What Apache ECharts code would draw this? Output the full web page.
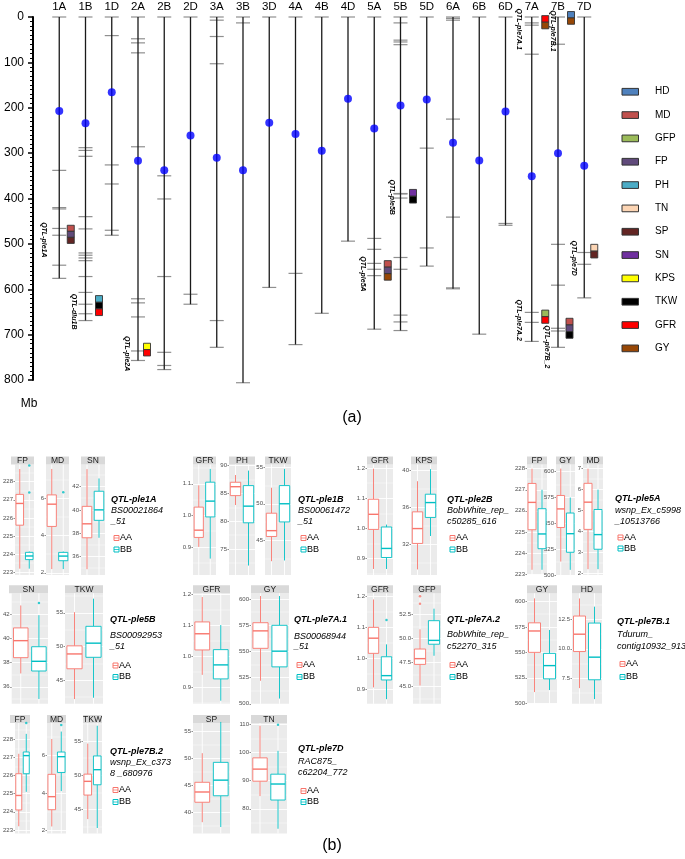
<!DOCTYPE html>
<html>
<head>
<meta charset="utf-8">
<script src="https://cdn.jsdelivr.net/npm/echarts@6/dist/echarts.min.js"></script>
<style>
  html, body { margin: 0; padding: 0; background: #fff; }
  #main { width: 685px; height: 859px; }
</style>
</head>
<body>
<div id="main"></div>
<script>
const FONT = '"Liberation Sans", Arial, Helvetica, sans-serif';

// ---------- (a) physical map ----------
const chromosomes = ['1A','1B','1D','2A','2B','2D','3A','3B','3D','4A','4B','4D','5A','5B','5D','6A','6B','6D','7A','7B','7D'];
const chromLength = [576, 669, 481, 757, 777, 633, 728, 806, 596, 722, 653, 494, 688, 691, 549, 599, 699, 459, 715, 728, 619];
const centromere  = [207, 234, 166, 317, 338, 261, 310, 338, 233, 258, 295, 180, 246, 195, 182, 277, 316, 208, 351, 300, 328];
const markerPos = [
  [338, 420, 423, 466, 481, 547],
  [288, 294, 307, 440, 467, 520, 525, 531, 537, 572, 607, 633, 654],
  [41, 326, 368, 470],
  [48, 57, 79, 286, 621, 630, 661, 736],
  [350, 401, 572, 739, 768],
  [611],
  [7, 43, 103, 669],
  [13],
  [],
  [565],
  [],
  [],
  [488, 512, 543, 556, 570],
  [13, 51, 55, 61, 389, 390, 399, 530, 556, 657, 672],
  [289, 509],
  [3, 7, 225, 441, 597],
  [],
  [455],
  [13, 18, 82, 651, 673],
  [60, 501, 591, 686, 692],
  [519, 545]
];
const traitNames  = ['HD','MD','GFP','FP','PH','TN','SP','SN','KPS','TKW','GFR','GY'];
const traitColors = ['#4f81bd','#c0504d','#9bbb59','#604a7b','#4bacc6','#fcd5b4','#632523','#7030a0','#ffff00','#000000','#ff0000','#974706'];

const qtlNames  = ['QTL-ple1A','QTL-dlu1B','QTL-ple2A','QTL-ple5A','QTL-ple5B','QTL-ple7A.1','QTL-ple7B.1','QTL-ple7D','QTL-ple7A.2','QTL-ple7B_2'];
const qtlChrom  = ['1A','1B','2A','5A','5B','7A','7B','7D','7A','7B'];
const qtlStart  = [459, 614, 719, 537, 380, -3, -12, 501, 646, 664];
const qtlEnd    = [499, 658, 747, 580, 410, 26, 16, 531, 675, 708];
const qtlTraits = [['MD','FP','SP'], ['PH','TKW','GFR'], ['KPS','GFR'], ['MD','FP','GY'], ['SN','TKW'],
                   ['GFR','GY'], ['HD','GY'], ['TN','SP'], ['GFP','GFR'], ['MD','FP','TKW']];

// layout of the QTL boxes / labels (pixels relative to the chromosome)
const qtlBoxDx   = [8, 10, 5.5, 10, 9, 10, 9.5, 6.5, 10, 8];
const qtlLabelDx = [-15, -11.5, -11, -11, -9, -12.5, -5, -10, -13, -11];
const qtlLabelDy = [5.5, 6, 4, 3.5, 1, 7, 13, 7, 3.5, 18.5];

// ---------- (b) box plots: [min, Q1, median, Q3, max] for AA and BB ----------
const genotypes = ['AA', 'BB'];
const genoColors = ['#f8766d', '#00bfc4'];

const ple1A_FP = [[223.2, 225.6, 226.8, 227.3, 228.7], [223.2, 223.7, 223.9, 224.1, 224.15]];
const ple1A_FP_out = [[], [228.9, 227.4]];
const ple1A_MD = [[2.2, 4.5, 5.7, 6.2, 7.6], [2.2, 2.65, 2.9, 3.1, 3.15]];
const ple1A_MD_out = [[], [6.35]];
const ple1A_SN = [[34.9, 37.6, 38.8, 40.3, 43.5], [37.6, 39.1, 40.0, 41.6, 42.7]];

const ple1B_GFR = [[0.90, 0.93, 0.953, 1.026, 1.095], [0.863, 0.995, 1.045, 1.105, 1.147]];
const ple1B_PH  = [[82.9, 84.6, 86.2, 87.0, 88.3], [72.0, 79.7, 82.7, 86.4, 89.1]];
const ple1B_TKW = [[42.1, 45.5, 46.3, 48.7, 52.2], [42.2, 47.5, 50.0, 52.5, 54.8]];

const ple2B_GFR = [[0.866, 0.997, 1.047, 1.097, 1.198], [0.866, 0.904, 0.934, 1.005, 1.013]];
const ple2B_KPS = [[29.3, 32.1, 33.7, 35.5, 38.8], [32.9, 34.9, 36.5, 37.4, 40.1]];

const ple5A_FP = [[223.2, 225.1, 226.4, 227.3, 228.0], [223.2, 224.2, 224.9, 226.1, 227.0]];
const ple5A_GY = [[513, 546, 564, 577, 603], [505, 522, 540, 560, 575]];
const ple5A_MD = [[2.2, 4.1, 5.4, 6.3, 7.0], [2.2, 3.15, 3.85, 5.05, 6.0]];

const ple5B_SN  = [[37.1, 38.4, 39.8, 40.85, 42.7], [35.0, 37.3, 38.1, 39.3, 41.9]];
const ple5B_SN_out = [[], [42.9]];
const ple5B_TKW = [[42.2, 46.7, 48.9, 50.1, 55.1], [42.4, 48.4, 50.5, 53.0, 57.1]];

const ple7A1_GFR = [[0.94, 1.02, 1.072, 1.11, 1.19], [0.857, 0.927, 0.972, 1.021, 1.10]];
const ple7A1_GY  = [[522, 553, 569.7, 577.5, 603], [505, 535.3, 550.3, 575, 603]];

const ple7A2_GFR = [[0.906, 1.016, 1.065, 1.10, 1.19], [0.868, 0.93, 0.944, 1.005, 1.045]];
const ple7A2_GFR_out = [[], [1.124]];
const ple7A2_GFP = [[45.1, 47.3, 47.9, 48.9, 50.95], [48.2, 49.4, 49.8, 51.85, 53.1]];
const ple7A2_GFP_out = [[54.4, 53.6], []];

const ple7B1_GY = [[511, 550, 571, 579, 603], [513, 524, 537, 549, 572]];
const ple7B1_HD = [[6.65, 9.77, 11.25, 12.8, 14.3], [5.71, 7.36, 9.29, 12.2, 13.6]];

const ple7B2_FP  = [[223.2, 224.1, 224.9, 226.1, 227.2], [225.1, 226.1, 227.1, 227.3, 228.3]];
const ple7B2_FP_out = [[], [228.9]];
const ple7B2_MD  = [[2.2, 3.1, 3.8, 5.0, 6.9], [4.1, 5.1, 5.95, 6.2, 7.3]];
const ple7B2_MD_out = [[], [7.65]];
const ple7B2_TKW = [[43.6, 47.1, 49.1, 50.15, 54.6], [42.3, 48.6, 50.8, 52.8, 57.2]];

const ple7D_SP = [[38.1, 41.8, 43.7, 45.5, 50.9], [37.2, 43.0, 45.9, 49.2, 56.7]];
const ple7D_TN = [[84.5, 89.8, 94.1, 98.1, 109.5], [72.9, 83.1, 88.8, 92.3, 100.6]];
const ple7D_TN_out = [[], [109.9]];

const groupTitles  = ['QTL-ple1A','QTL-ple1B','QTL-ple2B','QTL-ple5A','QTL-ple5B','QTL-ple7A.1','QTL-ple7A.2','QTL-ple7B.1','QTL-ple7B.2','QTL-ple7D'];
const groupMarkers = [['BS00021864','_51'], ['BS00061472','_51'], ['BobWhite_rep_','c50285_616'],
                      ['wsnp_Ex_c5998','_10513766'], ['BS00092953','_51'], ['BS00068944','_51'],
                      ['BobWhite_rep_','c52270_315'], ['Tdurum_','contig10932_913'],
                      ['wsnp_Ex_c373','8 _680976'], ['RAC875_','c62204_772']];

// panel layout
const rowTop = [464.5, 593.3, 723];
const panelH = 110.5;
const panels = [
  {t:'FP',  s:ple1A_FP,  o:ple1A_FP_out, x:11,  w:23, r:0, lim:[222.85, 228.95], step:1, d:0},
  {t:'MD',  s:ple1A_MD,  o:ple1A_MD_out, x:46,  w:23, r:0, lim:[1.88, 7.84], step:2, d:0},
  {t:'SN',  s:ple1A_SN,  x:81,  w:24, r:0, lim:[34.4, 43.9], step:2, d:0},
  {t:'GFR', s:ple1B_GFR, x:193, w:23, r:0, lim:[0.811, 1.161], step:0.1, d:1},
  {t:'PH',  s:ple1B_PH,  x:229, w:26, r:0, lim:[70.3, 90.2], step:5, d:0},
  {t:'TKW', s:ple1B_TKW, x:265, w:26, r:0, lim:[40.2, 55.4], step:5, d:0},
  {t:'GFR', s:ple2B_GFR, x:367, w:26, r:0, lim:[0.846, 1.212], step:0.1, d:1},
  {t:'KPS', s:ple2B_KPS, x:411, w:26, r:0, lim:[28.7, 40.6], step:4, d:0},
  {t:'FP',  s:ple5A_FP,  x:527, w:20, r:0, lim:[222.95, 228.2], step:1, d:0},
  {t:'GY',  s:ple5A_GY,  x:556, w:19, r:0, lim:[500, 607], step:25, d:0},
  {t:'MD',  s:ple5A_MD,  x:583, w:20, r:0, lim:[1.92, 7.2], step:1, d:0},

  {t:'SN',  s:ple5B_SN,  o:ple5B_SN_out, x:9, w:39, r:1, lim:[34.6, 43.7], step:2, d:0},
  {t:'TKW', s:ple5B_TKW, x:65,  w:38, r:1, lim:[41.5, 57.9], step:5, d:0},
  {t:'GFR', s:ple7A1_GFR, x:193, w:37, r:1, lim:[0.847, 1.202], step:0.1, d:1},
  {t:'GY',  s:ple7A1_GY, x:251, w:38, r:1, lim:[500, 605.6], step:25, d:0},
  {t:'GFR', s:ple7A2_GFR, o:ple7A2_GFR_out, x:367, w:26, r:1, lim:[0.853, 1.21], step:0.1, d:1},
  {t:'GFP', s:ple7A2_GFP, o:ple7A2_GFP_out, x:413, w:28, r:1, lim:[43.2, 54.7], step:2.5, d:1},
  {t:'GY',  s:ple7B1_GY, x:527, w:30, r:1, lim:[499.5, 608], step:25, d:0},
  {t:'HD',  s:ple7B1_HD, x:572, w:30, r:1, lim:[5.31, 14.74], step:2.5, d:1},

  {t:'FP',  s:ple7B2_FP, o:ple7B2_FP_out, x:10, w:20, r:2, lim:[222.8, 228.9], step:1, d:0},
  {t:'MD',  s:ple7B2_MD, o:ple7B2_MD_out, x:47, w:19, r:2, lim:[1.82, 7.76], step:2, d:0},
  {t:'TKW', s:ple7B2_TKW, x:83, w:19, r:2, lim:[41.5, 57.6], step:5, d:0},
  {t:'SP',  s:ple7D_SP,  x:193, w:37, r:2, lim:[36.0, 56.5], step:5, d:0},
  {t:'TN',  s:ple7D_TN,  o:ple7D_TN_out, x:251, w:36, r:2, lim:[71.2, 110.5], step:10, d:0}
];
// x, then y of: title, marker line 1, marker line 2, AA key, BB key
const groupTextPos = [
  [111, 500, 510.5, 521, 538, 549.5], [298, 500, 510.5, 521, 538, 549.5],
  [447, 500, 510.5, 521, 538, 549.5], [615, 499, 510, 521, 537.5, 548.5],
  [110, 620, 635, 646, 665.5, 677],   [294, 620, 636, 646, 665, 677],
  [447, 620, 634, 646, 665, 677],     [617, 622, 634, 646, 664, 677],
  [110, 752, 762, 773, 790, 802],     [298, 749, 761, 772, 791, 802]
];

const chart = echarts.init(document.getElementById('main'));

function isMult(v, step) {
  const q = v / step;
  return Math.abs(q - Math.round(q)) < 1e-6;
}
// break values (multiples of step) inside [lo, hi]
function breaksIn(lo, hi, step) {
  const out = [];
  for (let k = Math.ceil(lo / step - 1e-9); k * step <= hi + 1e-9; k++) out.push(+(k * step).toFixed(6));
  return out;
}

function renderBox(params, api) {
  const gi = api.value(0);
  const cs = params.coordSys;
  const col = genoColors[gi];
  const bw = cs.width / 2 * 0.8;
  const pMin = api.coord([gi, api.value(1)]);
  const pQ1 = api.coord([gi, api.value(2)]);
  const pMed = api.coord([gi, api.value(3)]);
  const pQ3 = api.coord([gi, api.value(4)]);
  const pMax = api.coord([gi, api.value(5)]);
  const x = pMin[0];
  return {
    type: 'group',
    children: [
      {type: 'line', shape: {x1: x, y1: cs.y, x2: x, y2: cs.y + cs.height}, style: {stroke: '#fff', lineWidth: 0.9}},
      {type: 'line', shape: {x1: x, y1: pMax[1], x2: x, y2: pQ3[1]}, style: {stroke: col, lineWidth: 0.9}},
      {type: 'line', shape: {x1: x, y1: pQ1[1], x2: x, y2: pMin[1]}, style: {stroke: col, lineWidth: 0.9}},
      {type: 'rect', shape: {x: x - bw / 2, y: pQ3[1], width: bw, height: pQ1[1] - pQ3[1]},
       style: {fill: '#fff', stroke: col, lineWidth: 0.9}},
      {type: 'line', shape: {x1: x - bw / 2, y1: pMed[1], x2: x + bw / 2, y2: pMed[1]}, style: {stroke: col, lineWidth: 1.4}}
    ]
  };
}

// ---- build (a) ----
const chromData = chromosomes.map((c, i) => [i, chromLength[i]]);
const markerData = [];
markerPos.forEach((list, i) => {
  [0].concat(list, [chromLength[i]]).forEach(m => markerData.push([i, m]));
});
const centroData = chromosomes.map((c, i) => [i, centromere[i]]);
const qtlData = qtlNames.map((n, k) => [chromosomes.indexOf(qtlChrom[k]), qtlStart[k], qtlEnd[k], k]);

const grids = [{left: 33, top: 17, width: 577.5, height: 363, show: false}];
const xAxes = [{
  type: 'value', gridIndex: 0, min: -1, max: 21, interval: 1, position: 'top',
  axisLine: {show: false, onZero: false}, axisTick: {show: false}, splitLine: {show: false},
  axisLabel: {fontSize: 11.5, fontFamily: FONT, color: '#000', margin: 4,
              formatter: v => chromosomes[v] || ''}
}];
const yAxes = [{
  type: 'value', gridIndex: 0, inverse: true, min: 0, max: 800, interval: 100, position: 'left',
  axisLine: {show: true, onZero: false, lineStyle: {color: '#000', width: 2}},
  axisTick: {show: true, length: 5, lineStyle: {color: '#000', width: 1.5}},
  minorTick: {show: true, splitNumber: 10, length: 3, lineStyle: {color: '#000', width: 1}},
  axisLabel: {fontSize: 12, fontFamily: FONT, color: '#000', margin: 9},
  splitLine: {show: false}
}];
const series = [
  {
    type: 'custom', xAxisIndex: 0, yAxisIndex: 0, data: markerData, silent: true, z: 2,
    encode: {x: 0, y: 1},
    renderItem: (params, api) => {
      const p = api.coord([api.value(0), api.value(1)]);
      return {type: 'line', shape: {x1: p[0] - 7, y1: p[1], x2: p[0] + 7, y2: p[1]},
              style: {stroke: '#8f8f8f', lineWidth: 1.2}};
    }
  },
  {
    type: 'custom', xAxisIndex: 0, yAxisIndex: 0, data: chromData, silent: true, z: 3,
    encode: {x: 0, y: 1},
    renderItem: (params, api) => {
      const a = api.coord([api.value(0), 0]);
      const b = api.coord([api.value(0), api.value(1)]);
      return {type: 'line', shape: {x1: a[0], y1: a[1], x2: b[0], y2: b[1]},
              style: {stroke: '#1a1a1a', lineWidth: 1.3}};
    }
  },
  {
    type: 'scatter', xAxisIndex: 0, yAxisIndex: 0, data: centroData, symbolSize: 8, z: 4,
    itemStyle: {color: '#0000ff'}, silent: true
  },
  {
    type: 'custom', xAxisIndex: 0, yAxisIndex: 0, data: qtlData, silent: true, z: 5,
    encode: {x: 0, y: [1, 2]},
    renderItem: (params, api) => {
      const ci = api.value(0), k = api.value(3);
      const top = api.coord([ci, api.value(1)]);
      const bot = api.coord([ci, api.value(2)]);
      const traits = qtlTraits[k];
      const h = (bot[1] - top[1]) / traits.length;
      const x0 = top[0] + qtlBoxDx[k];
      const children = traits.map((t, j) => ({
        type: 'rect', shape: {x: x0, y: top[1] + j * h, width: 7, height: h},
        style: {fill: traitColors[traitNames.indexOf(t)], stroke: '#333', lineWidth: 0.9}
      }));
      children.push({
        type: 'text', x: top[0] + qtlLabelDx[k], y: (top[1] + bot[1]) / 2 + qtlLabelDy[k],
        rotation: -Math.PI / 2,
        style: {text: qtlNames[k], font: 'italic bold 7px ' + FONT, fill: '#000',
                align: 'center', verticalAlign: 'middle'}
      });
      return {type: 'group', children: children};
    }
  }
];

// ---- build (b) ----
panels.forEach((p, i) => {
  const gi = i + 1;
  const br = breaksIn(p.lim[0], p.lim[1], p.step);
  grids.push({left: p.x, top: rowTop[p.r], width: p.w, height: panelH, show: true,
              backgroundColor: '#ebebeb', borderWidth: 0});
  xAxes.push({type: 'category', gridIndex: gi, data: genotypes, show: false});
  yAxes.push({
    type: 'value', gridIndex: gi, min: p.lim[0], max: p.lim[1],
    minInterval: p.step, maxInterval: p.step,
    axisLine: {show: false},
    axisTick: {show: true, length: 1.5, customValues: br, lineStyle: {color: '#444', width: 0.6}},
    axisLabel: {fontSize: 6, fontFamily: FONT, color: '#4d4d4d', margin: 2, customValues: br,
                formatter: v => isMult(v, p.step) ? v.toFixed(p.d) : ''},
    splitLine: {show: true, lineStyle: {color: '#fff', width: 0.9}},
    minorTick: {show: false, splitNumber: 2},
    minorSplitLine: {show: true, lineStyle: {color: '#fff', width: 0.45}}
  });
  series.push({
    type: 'custom', xAxisIndex: gi, yAxisIndex: gi, silent: true,
    encode: {x: 0, y: [1, 2, 3, 4, 5]},
    data: genotypes.map((g, k) => [k].concat(p.s[k])),
    renderItem: renderBox
  });
  if (p.o) {
    const pts = [];
    p.o.forEach((list, k) => list.forEach(v => pts.push({value: [k, v], itemStyle: {color: genoColors[k]}})));
    series.push({type: 'scatter', xAxisIndex: gi, yAxisIndex: gi, data: pts, symbolSize: 2.5, silent: true, z: 3});
  }
});

// ---- graphic elements: strips, legends, labels ----
const graphic = [];
panels.forEach(p => {
  const top = rowTop[p.r];
  graphic.push({type: 'rect', shape: {x: p.x, y: top - 8, width: p.w, height: 8}, style: {fill: '#d9d9d9'}});
  graphic.push({type: 'text', x: p.x + p.w / 2, y: top - 3.8,
                style: {text: p.t, font: '8.5px ' + FONT, fill: '#1a1a1a', align: 'center', verticalAlign: 'middle'}});
});
groupTitles.forEach((title, g) => {
  const pos = groupTextPos[g];
  graphic.push({type: 'text', x: pos[0], y: pos[1],
                style: {text: title, font: 'italic bold 9px ' + FONT, fill: '#000', verticalAlign: 'middle'}});
  groupMarkers[g].forEach((m, j) => {
    graphic.push({type: 'text', x: pos[0], y: pos[2 + j],
                  style: {text: m, font: 'italic 9px ' + FONT, fill: '#000', verticalAlign: 'middle'}});
  });
  genotypes.forEach((gt, k) => {
    const y = pos[4 + k];
    graphic.push({type: 'rect', shape: {x: pos[0] + 3, y: y - 2.5, width: 5, height: 5},
                  style: {fill: '#fff', stroke: genoColors[k], lineWidth: 1}});
    graphic.push({type: 'line', shape: {x1: pos[0] + 3, y1: y, x2: pos[0] + 8, y2: y},
                  style: {stroke: genoColors[k], lineWidth: 0.8}});
    graphic.push({type: 'text', x: pos[0] + 9, y: y,
                  style: {text: gt, font: '9px ' + FONT, fill: '#000', verticalAlign: 'middle'}});
  });
});
traitNames.forEach((t, i) => {
  const y = 91.7 + i * 23.33;
  graphic.push({type: 'rect', shape: {x: 622, y: y - 3.3, width: 16.5, height: 6.7},
                style: {fill: traitColors[i], stroke: '#333', lineWidth: 1}});
  graphic.push({type: 'text', x: 655, y: y,
                style: {text: t, font: '10px ' + FONT, fill: '#000', verticalAlign: 'middle'}});
});
graphic.push({type: 'text', x: 29, y: 404, style: {text: 'Mb', font: '12px ' + FONT, fill: '#000', align: 'center', verticalAlign: 'middle'}});
graphic.push({type: 'text', x: 352, y: 418, style: {text: '(a)', font: '16px ' + FONT, fill: '#000', align: 'center', verticalAlign: 'middle'}});
graphic.push({type: 'text', x: 332, y: 846, style: {text: '(b)', font: '16px ' + FONT, fill: '#000', align: 'center', verticalAlign: 'middle'}});

chart.setOption({
  animation: false,
  backgroundColor: '#fff',
  grid: grids,
  xAxis: xAxes,
  yAxis: yAxes,
  series: series,
  graphic: graphic
});
</script>
</body>
</html>
